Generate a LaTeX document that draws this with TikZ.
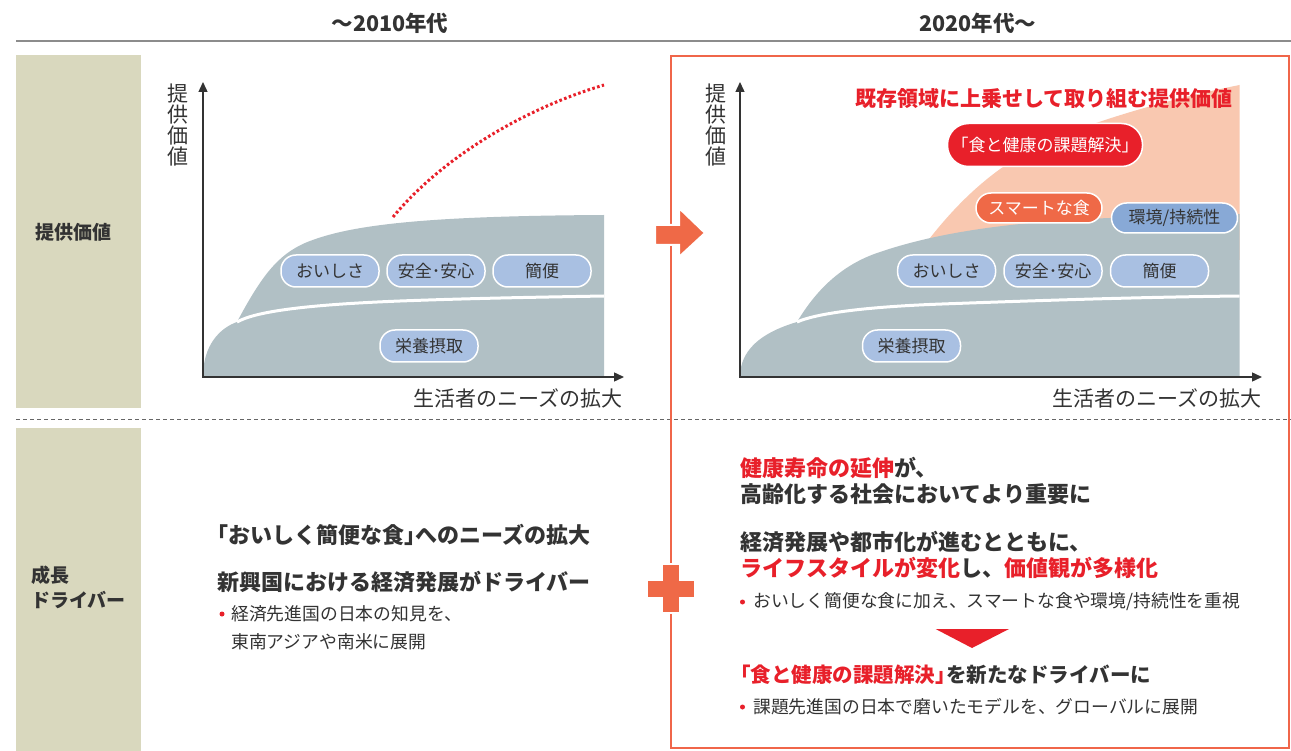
\documentclass[tikz,border=0pt]{standalone}
\usepackage{fontspec}
\setmainfont{Noto Sans CJK JP}
\usetikzlibrary{arrows.meta}
\definecolor{txt}{HTML}{333333}
\definecolor{tanbg}{HTML}{D9D8BE}
\definecolor{grayarea}{HTML}{B1C0C5}
\definecolor{pillblue}{HTML}{A9C0E2}
\definecolor{pillblueb}{HTML}{88A9D6}
\definecolor{peach}{HTML}{F9C8B0}
\definecolor{orng}{HTML}{EF6947}
\definecolor{jred}{HTML}{E8202A}
\definecolor{boxred}{HTML}{F0664A}
\tikzset{
  hdr/.style={font=\fontsize{21.5}{25}\selectfont\bfseries, text=txt, inner sep=0pt},
  sidelbl/.style={font=\fontsize{19}{25}\selectfont\bfseries, text=txt, inner sep=0pt, align=left},
  axislbl/.style={font=\fontsize{21}{21}\selectfont, text=txt, inner sep=0pt, align=center},
  axisline/.style={draw=txt, line width=1.4pt, {Triangle[width=9pt,length=10pt]}-{Triangle[width=9pt,length=10pt]}},
  pill/.style={draw=white, line width=1.5pt, rounded corners=15pt, minimum height=32pt, minimum width=98pt, fill=pillblue, text=txt, font=\fontsize{17}{20}\selectfont, inner sep=0pt},
  headtxt/.style={font=\fontsize{22}{26.5}\selectfont\bfseries, text=txt, inner sep=0pt, align=left, anchor=west},
  bultxt/.style={font=\fontsize{17.8}{28}\selectfont, text=txt, inner sep=0pt, align=left, anchor=west},
  bul/.style={circle, fill=jred, inner sep=0pt, minimum size=5pt},
  whiteline/.style={draw=white, line width=3pt}
}
\begin{document}
\begin{tikzpicture}[x=1pt,y=-1pt]
\useasboundingbox (0,0) rectangle (1291,751);
\fill[white] (0,0) rectangle (1291,751);

% headers
\node[hdr] (h1) at (390,23) {～2010年代};
\node[hdr] (h2) at (978,23) {2020年代～};
\draw[line width=2pt, draw=black!45] (16,41) -- (1291,41);

% side boxes
\fill[tanbg] (16,55) rectangle (141,408);
\fill[tanbg] (16,428) rectangle (141,751);
\node[sidelbl] (s1) at (73,232) {提供価値};
\node[sidelbl, anchor=west] (s2) at (31,587) {成長\\ドライバー};
\draw[dash pattern=on 4pt off 3pt, draw=black!60, line width=0.8pt] (16,419) -- (1291,419);

% ---------- left chart ----------
\fill[grayarea] (203,377) .. controls (203,345) and (220,328) .. (237,322)
  .. controls (262,275) and (278,255) .. (305,243)
  .. controls (350,224) and (430,216) .. (604,215) -- (604,377) -- cycle;
\draw[whiteline] (237,322) .. controls (255,312) and (300,305) .. (400,301)
  .. controls (480,298) and (550,297) .. (604,296);
\draw[jred, line width=3pt, dash pattern=on 2.6pt off 2.4pt] (393,217) .. controls (440,160) and (520,110) .. (604,85);
\coordinate (ly) at (203,82);
\coordinate (lo) at (203,377);
\coordinate (lx) at (624,377);
\draw[axisline] (ly) -- (lo) -- (lx);
\node[axislbl] (lyl) at (178,125) {提\\供\\価\\値};
\node[axislbl, anchor=east] (lxl) at (623,398) {生活者のニーズの拡大};
\node[pill] (l1) at (330,271) {おいしさ};
\node[pill] (l2) at (436,271) {安全･安心};
\node[pill] (l3) at (542,271) {簡便};
\node[pill] (l4) at (429,346) {栄養摂取};

% ---------- right box ----------
\draw[boxred, line width=2pt] (671,56) rectangle (1289,748);
\fill[orng, draw=white, line width=2pt] (655,225) -- (679,225) -- (679,208) -- (705,233) -- (679,257) -- (679,245) -- (655,245) -- cycle;
\fill[orng, draw=white, line width=2pt] (662,564) -- (680,564) -- (680,580) -- (695,580) -- (695,598) -- (680,598) -- (680,613) -- (662,613) -- (662,598) -- (647,598) -- (647,580) -- (662,580) -- cycle;

% ---------- right chart ----------
\fill[peach] (920,250) -- (930,238) .. controls (960,200) and (1000,160) .. (1060,136)
  .. controls (1120,113) and (1180,97) .. (1239.5,85) -- (1239.5,260) -- (920,260) -- cycle;
\fill[grayarea] (740,377) .. controls (740,345) and (770,330) .. (797,322)
  .. controls (815,292) and (840,265) .. (880,252)
  .. controls (930,235) and (1000,222) .. (1110,218) -- (1239.5,214) -- (1239.5,377) -- cycle;
\draw[whiteline] (797,322) .. controls (815,314) and (860,307) .. (942,304)
  .. controls (1050,300) and (1150,297) .. (1239.5,296);
\coordinate (ry) at (740,82);
\coordinate (ro) at (740,377);
\coordinate (rx) at (1262,377);
\draw[axisline] (ry) -- (ro) -- (rx);
\node[axislbl] (ryl) at (716,125) {提\\供\\価\\値};
\node[axislbl, anchor=east] (rxl) at (1262,398) {生活者のニーズの拡大};
\node[font=\fontsize{21}{24}\selectfont\bfseries, text=jred, inner sep=0pt] (rt) at (1044,99) {既存領域に上乗せして取り組む提供価値};
\node[pill, fill=jred, text=white, minimum width=195pt, minimum height=43pt, rounded corners=21pt] (p1) at (1045,145) {「食と健康の課題解決」};
\node[pill, fill=orng, text=white, minimum width=126pt, minimum height=30pt] (p2) at (1039,208) {スマートな食};
\node[pill, fill=pillblueb, minimum width=126pt, minimum height=30pt] (p3) at (1174.5,218) {環境/持続性};
\node[pill] (r1) at (946.6,271) {おいしさ};
\node[pill] (r2) at (1053,271) {安全･安心};
\node[pill] (r3) at (1159.5,271) {簡便};
\node[pill] (r4) at (911.5,346) {栄養摂取};

% ---------- bottom left ----------
\node[headtxt] (b1) at (206,535) {「おいしく簡便な食」\kern-0.5em へのニーズの拡大};
\node[headtxt] (b2) at (217,582) {新興国における経済発展がドライバー};
\node[bul] (bb1) at (222,614) {};
\node[bultxt] (b3) at (231,628) {経済先進国の日本の知見を、\\東南アジアや南米に展開};

% ---------- bottom right ----------
\node[headtxt] (c1) at (740,481) {{\color{jred}健康寿命の延伸}が、\\高齢化する社会においてより重要に};
\node[headtxt] (c2) at (740,555) {経済発展や都市化が進むとともに、\\{\color{jred}ライフスタイルが変化}し、{\color{jred}価値観が多様化}};
\node[bul] (cb1) at (742.5,602) {};
\node[bultxt] (c3) at (753,602) {おいしく簡便な食に加え、スマートな食や環境/持続性を重視};
\fill[jred] (935.6,629) -- (1009,629) -- (972,648) -- cycle;
\node[headtxt, font=\fontsize{20.5}{24}\selectfont\bfseries] (c4) at (730,675) {{\color{jred}「食と健康の課題解決」}\kern-0.45em を新たなドライバーに};
\node[bul] (cb2) at (742.5,707) {};
\node[bultxt] (c5) at (753,707) {課題先進国の日本で磨いたモデルを、グローバルに展開};
\end{tikzpicture}
\end{document}
